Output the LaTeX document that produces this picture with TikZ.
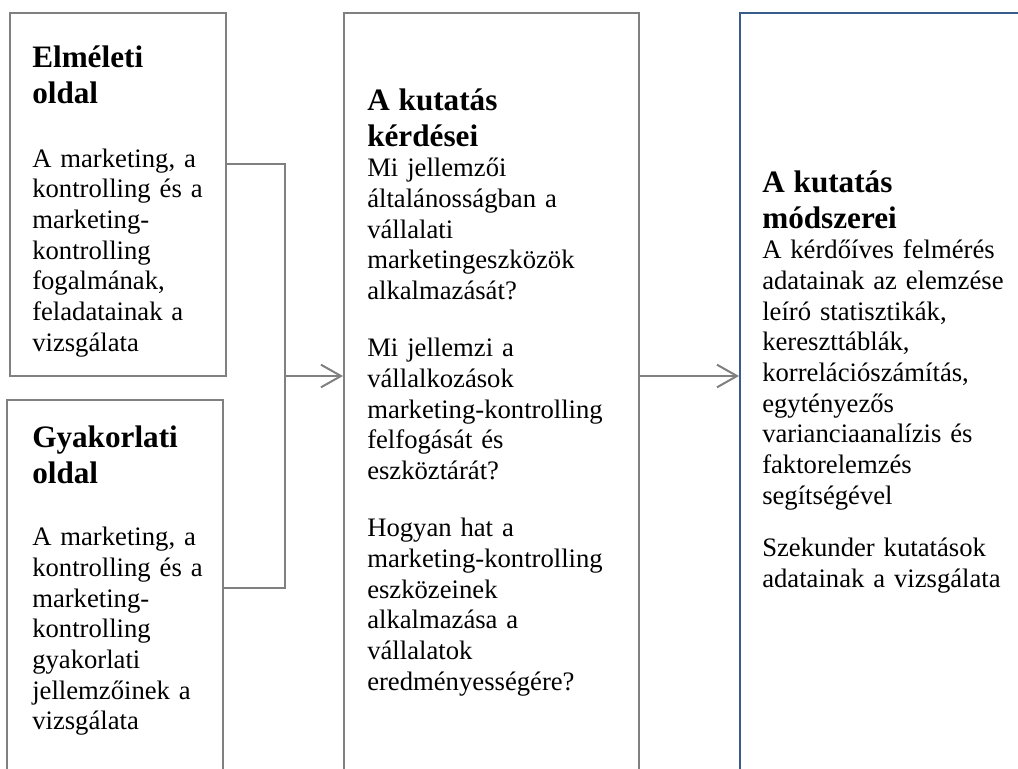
\documentclass[tikz,border=0pt]{standalone}
\usepackage{fontspec}
\setmainfont{Liberation Serif}
\usetikzlibrary{arrows.meta}
\definecolor{linegray}{RGB}{128,128,128}
\definecolor{boxblue}{RGB}{56,93,138}
\newcommand{\ttl}{\bfseries\fontsize{23.4}{27}\selectfont}
\tikzset{
  box/.style={draw=linegray, line width=1.5pt, inner sep=0pt},
  txt/.style={anchor=base west, inner sep=0pt, text width=215pt, align=left,
    font=\fontsize{20}{23}\selectfont},
  link/.style={draw=linegray, line width=1.5pt},
  arr/.style={link, -{Straight Barb[length=15pt,width=17pt]}}
}
\begin{document}
\begin{tikzpicture}[x=0.75pt,y=-0.75pt]
\useasboundingbox (0,0) rectangle (1018,768);
\clip (0,0) rectangle (1018,768);
% boxes
\node[box, minimum width=162pt, minimum height=272.6pt] (elm) at (117.5,194.25) {};
\node[box, minimum width=162pt, minimum height=300pt] (gya) at (115,600) {};
\node[box, minimum width=221.25pt, minimum height=590.6pt] (kerd) at (491.5,406.25) {};
\node[box, draw=boxblue, minimum width=225pt, minimum height=590.6pt] (mod) at (890,406.25) {};
% texts
\node[txt] (elmtxt) at (32,67) {{\ttl Elméleti\\oldal\par}\vspace{25pt}
A marketing, a\\kontrolling és a\\marketing-\\kontrolling\\fogalmának,\\feladatainak a\\vizsgálata};
\node[txt] (gyatxt) at (32,447) {{\ttl Gyakorlati\\oldal\par}\vspace{24pt}
A marketing, a\\kontrolling és a\\marketing-\\kontrolling\\gyakorlati\\jellemzőinek a\\vizsgálata};
\node[txt] (kerdtxt) at (367,110) {{\ttl A kutatás\\kérdései\par}
Mi jellemzői\\általánosságban a\\vállalati\\marketingeszközök\\alkalmazását?\par\vspace{20pt}
Mi jellemzi a\\vállalkozások\\marketing-kontrolling\\felfogását és\\eszköztárát?\par\vspace{20pt}
Hogyan hat a\\marketing-kontrolling\\eszközeinek\\alkalmazása a\\vállalatok\\eredményességére?};
\node[txt] (modtxt) at (762,192) {{\ttl A kutatás\\módszerei\par}
A kérdőíves felmérés\\adatainak az elemzése\\leíró statisztikák,\\kereszttáblák,\\korrelációszámítás,\\egytényezős\\varianciaanalízis és\\faktorelemzés\\segítségével\par\vspace{16.5pt}
Szekunder kutatások\\adatainak a vizsgálata};
% connectors
\coordinate (jtop) at (285,164);
\coordinate (jbot) at (285,588);
\coordinate (jmid) at (285,376);
\draw[link] (elm.east |- jtop) -- (jtop) -- (jbot) -- (gya.east |- jbot);
\draw[arr] (jmid) -- (kerd.west |- jmid);
\draw[arr] (kerd.east |- jmid) -- (mod.west |- jmid);
\end{tikzpicture}
\end{document}
